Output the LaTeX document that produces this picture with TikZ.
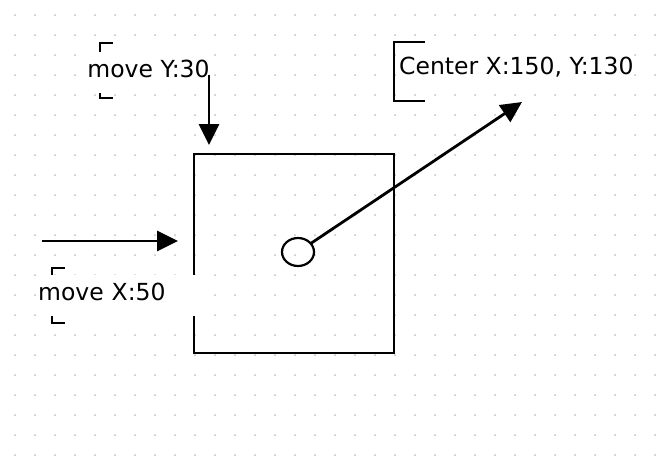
\documentclass[tikz,border=0pt]{standalone}
\usepackage{fontspec}
\setmainfont{DejaVu Sans}
\usetikzlibrary{arrows.meta,shapes.geometric}

\begin{document}
\begin{tikzpicture}[x=1pt,y=-1pt,>={Triangle[length=21pt,width=20pt]},
  font=\fontsize{23.5}{28}\selectfont,
  lbl/.style={fill=white,inner xsep=0pt,inner ysep=0pt,text height=17pt,text depth=8pt,minimum height=41pt},
  brk/.style={line width=2pt},
  arr/.style={->,line width=2.8pt}]
\useasboundingbox (0,0) rectangle (664,466);
\foreach \i in {0,...,32}
  \foreach \j in {0,...,22}
    \fill[black!25] (15+20*\i,15+20*\j) circle (1pt);
\node[draw,line width=2.2pt,minimum width=200pt,minimum height=199pt,inner sep=0pt,outer sep=0pt] (obj) at (294,253.5) {};
\node[draw,ellipse,line width=2.2pt,minimum width=32pt,minimum height=28pt,inner sep=0pt,outer sep=0pt] (ctr) at (298,252) {};
\draw[brk] (113,43) -- (100,43) -- (100,98) -- (113,98);
\draw[brk] (65,268) -- (52,268) -- (52,323) -- (65,323);
\draw[brk] (425,42) -- (394,42) -- (394,101) -- (425,101);
\node[lbl] (movey) at (148.5,72.5) {move Y:30};
\node[lbl,anchor=west,text width=158pt,align=left] (movex) at (38,295.5) {move X:50};
\node[lbl,anchor=west] (center) at (399,70) {Center X:150, Y:130};
\coordinate (ytail) at (209,75);
\coordinate (ytip) at (209,145);
\coordinate (xtail) at (42,241);
\coordinate (xtip) at (178,241);
\coordinate (ctip) at (522,102);
\draw[arr] (ytail) -- (ytip);
\draw[arr] (xtail) -- (xtip);
\draw[arr] (ctr) -- (ctip);
\end{tikzpicture}
\end{document}
